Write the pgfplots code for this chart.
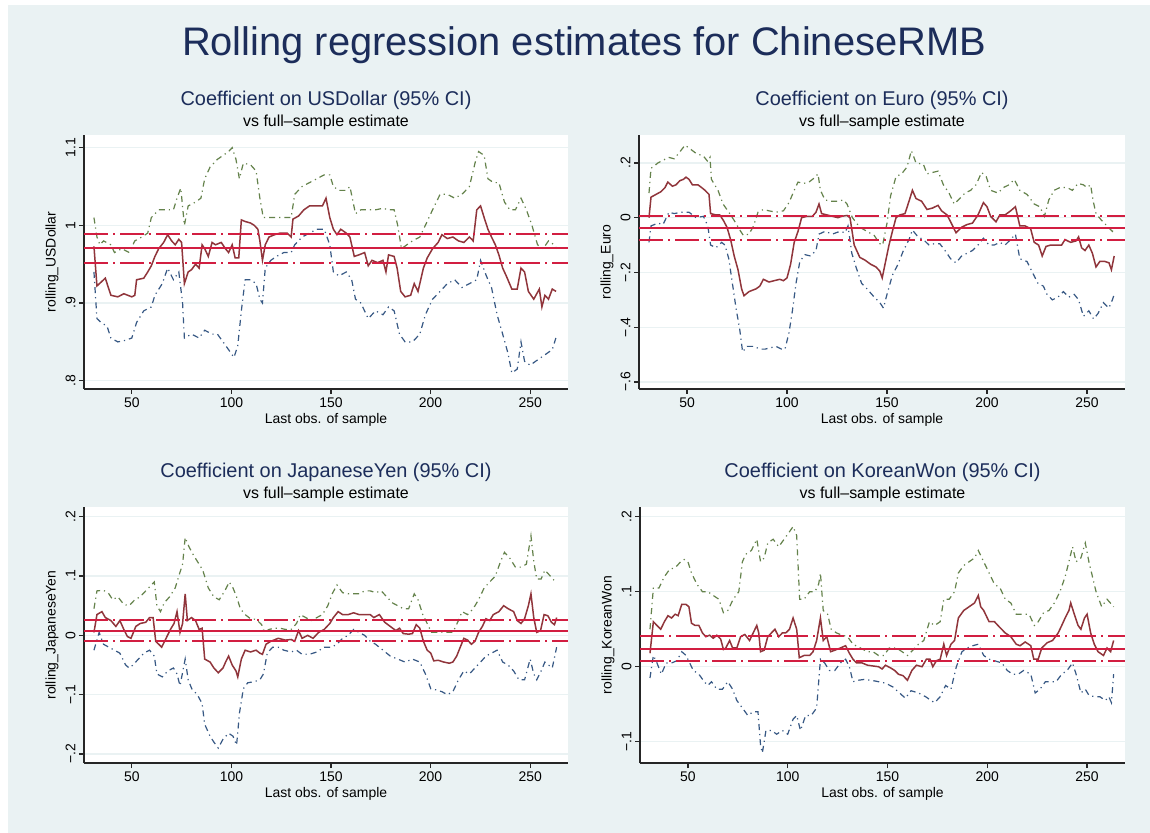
\documentclass[border=0pt]{standalone}
\usepackage{fontspec}
\setmainfont{Liberation Sans}
\usepackage{pgfplots}
\pgfplotsset{compat=1.18}
\definecolor{bgc}{RGB}{234,242,243}
\definecolor{gridc}{RGB}{234,242,243}
\definecolor{ttl}{RGB}{28,45,90}
\definecolor{estc}{RGB}{144,53,59}
\definecolor{hic}{RGB}{100,130,75}
\definecolor{loc}{RGB}{55,88,132}
\definecolor{refc}{RGB}{210,30,65}
\pgfplotsset{
  panel/.style={
    scale only axis, anchor=south west,
    xmin=26, xmax=269,
    xtick={50,100,150,200,250},
    xticklabels={50,100,150,200,250},
    axis x line*=bottom, axis y line*=left,
    axis line style={line width=1.2bp, color=black!85, -},
    x axis line style={-}, y axis line style={-},
    axis background/.style={fill=white},
    tick align=outside,
    major tick length=5bp,
    every tick/.style={line width=1.2bp, black!85},
    ymajorgrids,
    major grid style={line width=1.2bp, color=gridc},
    tick label style={font=\fontsize{14}{16}\selectfont, text=black},
    /pgf/number format/assume math mode=true,
    yticklabel style={rotate=90, anchor=south},
    every axis x label/.style={at={(axis description cs:0.5,0)}, yshift=-31bp, anchor=center, font=\fontsize{14}{16}\selectfont},
    every axis y label/.style={at={(axis description cs:0,0.5)}, xshift=-32bp, rotate=90, anchor=center, font=\fontsize{14}{16}\selectfont},
    xlabel={Last obs. of sample},
  },
  est/.style={color=estc, line width=1.5bp, solid, mark=none},
  hi/.style={color=hic, line width=1.2bp, mark=none, dash pattern=on 6bp off 4bp on 1.2bp off 4bp},
  lo/.style={color=loc, line width=1.2bp, mark=none, dash pattern=on 6bp off 4bp on 1.2bp off 4bp},
  refmid/.style={color=refc, line width=2bp, solid, mark=none},
  refci/.style={color=refc, line width=2bp, mark=none, dash pattern=on 24bp off 5bp on 2bp off 5bp},
}
\begin{document}
\begin{tikzpicture}
\useasboundingbox (0,0) rectangle (1150bp,833bp);
\fill[white] (0,0) rectangle (1150bp,833bp);
\fill[bgc] (8bp,0) rectangle (1150bp,828bp);
\node[anchor=base, text=ttl, font=\fontsize{40}{48}\selectfont] at (584bp,777bp) {Rolling regression estimates for ChineseRMB};

% ---------------- USDollar
\node[anchor=base, text=ttl, font=\fontsize{20}{24}\selectfont] at (326bp,727bp) {Coefficient on USDollar (95\% CI)};
\node[anchor=base, font=\fontsize{16}{19}\selectfont] at (326bp,706bp) {vs full–sample estimate};
\begin{axis}[panel, at={(84bp,444bp)}, width=484bp, height=254bp,
  ymin=0.7894, ymax=1.1163, ytick={0.8,0.9,1,1.1}, yticklabels={.8,.9,1,1.1},
  ylabel={rolling\_USDollar}]
\addplot[hi] coordinates {(31,1.01)(32.5,0.985)(34,0.975)(35.8,0.98)(39.5,0.975)(41.3,0.965)(45,0.97)(48.7,0.965)(51.5,0.98)(55,0.985)(58,0.99)(59.8,1.01)(63.5,1.02)(67,1.02)(70.9,1.02)(72.7,1.035)(74.6,1.048)(76.4,1.0)(78.3,1.025)(82,1.03)(84.7,1.035)(86.6,1.06)(89.3,1.075)(93,1.085)(95.8,1.09)(98.6,1.095)(100.4,1.1)(102.3,1.085)(104,1.06)(106,1.08)(109.6,1.078)(112.4,1.07)(114.3,1.035)(116,1.01)(118.9,1.01)(122.6,1.01)(126.3,1.01)(130,1.01)(131.8,1.04)(135.5,1.05)(139.2,1.055)(142.9,1.06)(146.6,1.065)(149.4,1.065)(151.2,1.05)(154,1.045)(157.7,1.045)(159.5,1.05)(162.3,1.015)(165,1.02)(168.7,1.02)(172.4,1.02)(176.1,1.022)(178.9,1.02)(181.7,1.02)(183.5,1.0)(185.4,0.97)(188.1,0.975)(190.9,0.98)(194.6,0.985)(198.3,1.005)(201,1.02)(204.8,1.04)(208.4,1.04)(212.1,1.035)(215.8,1.04)(219.5,1.05)(222.3,1.08)(224.1,1.095)(226.9,1.09)(228.8,1.06)(231.6,1.055)(234.3,1.055)(237.1,1.03)(239.8,1.02)(242.6,1.02)(245.4,1.035)(248.1,1.02)(250.9,1.0)(253.7,0.975)(256.5,0.97)(259.2,0.98)(262,0.975)(263.3,0.97)};
\addplot[lo] coordinates {(31,0.94)(32.5,0.88)(34.6,0.875)(37.6,0.87)(39.5,0.855)(43,0.85)(46.7,0.852)(50,0.855)(52.4,0.875)(56,0.89)(59.8,0.895)(61.6,0.91)(65.3,0.925)(68,0.945)(70.9,0.93)(73.6,0.94)(75.5,0.9)(76.4,0.855)(80,0.86)(83.8,0.855)(86.6,0.865)(90.3,0.86)(93,0.86)(95.8,0.85)(98.6,0.84)(101.3,0.83)(103.2,0.845)(105,0.89)(106.9,0.93)(109.6,0.93)(112.4,0.925)(114.3,0.905)(115.6,0.9)(117,0.945)(119.8,0.955)(122.6,0.96)(126.3,0.965)(130,0.965)(131.8,0.975)(135.5,0.985)(139.2,0.99)(142.9,0.995)(146.6,0.995)(149.4,0.975)(151.2,0.94)(154,0.935)(157.7,0.94)(160.4,0.93)(162.3,0.905)(165,0.9)(168.7,0.88)(172.4,0.89)(176.1,0.885)(178.9,0.895)(181.7,0.89)(184.4,0.86)(187.2,0.85)(190.9,0.85)(194.6,0.86)(197.4,0.885)(201,0.905)(204.8,0.915)(208.4,0.925)(212.1,0.93)(215.8,0.92)(219.5,0.925)(223.2,0.93)(225.1,0.955)(228,0.935)(230.6,0.92)(233.4,0.885)(236.2,0.86)(238.9,0.835)(240.8,0.81)(243.5,0.815)(245.4,0.85)(247.2,0.825)(250,0.82)(252.7,0.825)(255.5,0.83)(258.3,0.835)(261.1,0.84)(262.9,0.855)};
\addplot[est] coordinates {(31,0.973)(32.5,0.922)(36.7,0.932)(39.5,0.910)(43,0.908)(46,0.912)(50,0.908)(51.5,0.91)(52.4,0.93)(56,0.932)(58,0.94)(59.8,0.948)(61.6,0.96)(63.5,0.97)(66,0.978)(68,0.988)(70,0.98)(71.8,0.975)(73.6,0.982)(75,0.978)(76.4,0.925)(78.3,0.94)(80,0.943)(82,0.95)(83.8,0.945)(85.3,0.975)(86.6,0.97)(88.4,0.96)(90.3,0.978)(92,0.975)(94.9,0.978)(97,0.97)(98.6,0.965)(100.4,0.975)(101.9,0.958)(103.7,0.958)(105,1.007)(106.9,1.005)(109.6,1.003)(111.5,1.0)(113.3,0.995)(114.3,0.98)(115.6,0.955)(117,0.975)(118.9,0.985)(121.7,0.988)(124.4,0.99)(128,0.99)(130,0.985)(130.9,1.008)(133.7,1.012)(136.4,1.02)(139.2,1.025)(142.9,1.025)(145.7,1.025)(147.5,1.035)(149.4,1.01)(151.2,0.995)(153,0.988)(154.9,0.995)(157.7,0.99)(159.5,0.985)(161.7,0.96)(164,0.962)(166.9,0.965)(168.7,0.948)(170.6,0.955)(173.4,0.952)(176.1,0.955)(177.6,0.94)(178.9,0.962)(181.7,0.96)(183.2,0.945)(185,0.915)(187.2,0.908)(190,0.91)(191.8,0.925)(193.7,0.915)(196.4,0.945)(198.3,0.958)(201,0.97)(203.8,0.978)(205.7,0.988)(208.4,0.983)(211.2,0.985)(214,0.98)(216.7,0.978)(219.5,0.985)(221.4,0.98)(223.2,1.02)(225.1,1.025)(226.9,1.01)(228.8,0.995)(230.6,0.985)(232.5,0.975)(234.3,0.962)(236.2,0.945)(238,0.935)(240.8,0.918)(243.5,0.918)(245.4,0.945)(247.2,0.94)(249.1,0.915)(251.8,0.905)(254.6,0.918)(255.9,0.895)(257.4,0.91)(259.2,0.905)(261.1,0.918)(263,0.915)};
\addplot[refmid] coordinates {(26,0.971)(269,0.971)};
\addplot[refci] coordinates {(26,0.989)(269,0.989)};
\addplot[refci] coordinates {(26,0.951)(269,0.951)};
\end{axis}

% ---------------- Euro
\node[anchor=base, text=ttl, font=\fontsize{20}{24}\selectfont] at (882bp,727bp) {Coefficient on Euro (95\% CI)};
\node[anchor=base, font=\fontsize{16}{19}\selectfont] at (882bp,706bp) {vs full–sample estimate};
\begin{axis}[panel, at={(639bp,444bp)}, width=486bp, height=254bp,
  ymin=-0.6256, ymax=0.302, ytick={-0.6,-0.4,-0.2,0,0.2}, yticklabels={−.6,−.4,−.2,0,.2},
  ylabel={rolling\_Euro}]
\addplot[hi] coordinates {(31,0.09)(32,0.18)(35.5,0.2)(38,0.21)(41,0.22)(43.6,0.215)(46.4,0.24)(49,0.265)(51.8,0.25)(54.5,0.235)(58.2,0.225)(60.4,0.205)(61.5,0.22)(62.2,0.14)(65.5,0.1)(68,0.05)(70.9,0.02)(73.6,-0.01)(76.4,-0.045)(78.2,-0.065)(81,-0.06)(83.3,-0.03)(85.5,0.02)(88.2,0.03)(91,0.025)(94.5,0.02)(98.2,0.025)(101,0.055)(103.6,0.1)(105.5,0.13)(108.2,0.125)(111,0.13)(113.6,0.145)(115.5,0.16)(116.7,0.1)(119,0.065)(121.8,0.06)(125.5,0.06)(128.2,0.065)(130,0.05)(132.7,0.0)(136.4,-0.035)(140,-0.05)(143.6,-0.065)(146.4,-0.095)(147.8,-0.1)(150,-0.02)(151.8,0.08)(154.5,0.15)(157.3,0.16)(160,0.185)(162.2,0.245)(164.5,0.2)(168.2,0.195)(170,0.16)(172.7,0.165)(175.5,0.17)(178.2,0.12)(181,0.09)(183.6,0.05)(186.4,0.07)(189,0.09)(191.8,0.1)(194.5,0.12)(197.3,0.165)(199.6,0.15)(201.8,0.1)(205.5,0.09)(208.2,0.11)(211,0.12)(213.6,0.14)(216.4,0.1)(220,0.085)(223.6,0.05)(226.4,0.04)(228.7,0.005)(230.9,0.065)(233.6,0.1)(236.4,0.11)(240,0.11)(242.7,0.1)(245.5,0.125)(248.2,0.12)(250,0.11)(251.8,0.12)(253.1,0.06)(254.5,0.015)(257.3,-0.01)(260,-0.03)(262.7,-0.05)(263.6,-0.04)};
\addplot[lo] coordinates {(31,-0.09)(32,-0.03)(35.5,-0.02)(38,-0.025)(41,0.02)(43.6,0.015)(47.3,0.02)(51,0.02)(54.5,0.0)(58.2,0.005)(60.4,-0.03)(61.8,-0.1)(64.5,-0.11)(67.3,-0.09)(69,-0.1)(70.9,-0.15)(72.7,-0.24)(74.5,-0.33)(76.4,-0.41)(77.8,-0.49)(80,-0.47)(83.6,-0.47)(86.4,-0.48)(89,-0.48)(91.8,-0.475)(94.5,-0.47)(97.3,-0.48)(99,-0.48)(101,-0.42)(102.7,-0.34)(104.5,-0.24)(106.4,-0.16)(109,-0.135)(111.8,-0.14)(114.5,-0.12)(116,-0.06)(119,-0.05)(122.7,-0.06)(126.4,-0.05)(129,-0.055)(130.5,-0.03)(132.4,-0.13)(134.5,-0.18)(137.3,-0.24)(140,-0.26)(143.6,-0.29)(146.4,-0.31)(148.2,-0.33)(150,-0.28)(152.7,-0.21)(155.5,-0.17)(158.2,-0.12)(161,-0.08)(162.7,-0.045)(165.5,-0.07)(168.2,-0.08)(171,-0.1)(173.6,-0.095)(176.4,-0.095)(179,-0.12)(181.8,-0.15)(184.5,-0.165)(187.3,-0.14)(190,-0.13)(192.7,-0.12)(195.5,-0.1)(198.2,-0.075)(201,-0.1)(203.6,-0.1)(206.4,-0.09)(209,-0.1)(211.8,-0.08)(214.2,-0.06)(216.4,-0.15)(220,-0.16)(222.7,-0.2)(225.5,-0.24)(228.2,-0.25)(230,-0.28)(232.7,-0.3)(235.5,-0.29)(238.2,-0.27)(240.9,-0.29)(243.6,-0.28)(245.8,-0.3)(248.2,-0.36)(250.9,-0.34)(253.3,-0.37)(255.5,-0.35)(258.2,-0.31)(260.9,-0.33)(262.7,-0.3)(263.6,-0.28)};
\addplot[est] coordinates {(31,0.0)(32,0.075)(34.5,0.085)(37,0.095)(39,0.11)(40.4,0.13)(42.7,0.115)(44.5,0.12)(46.4,0.135)(48.2,0.14)(49.5,0.148)(51,0.14)(52.7,0.12)(55.5,0.12)(57.3,0.11)(59,0.1)(61,0.085)(61.8,0.015)(64.5,0.01)(66.4,0.01)(68.2,-0.01)(70,-0.035)(71.8,-0.08)(73.6,-0.14)(75.5,-0.19)(77.3,-0.26)(78.5,-0.285)(81,-0.27)(82.7,-0.265)(84.5,-0.26)(86.4,-0.25)(88.2,-0.225)(91,-0.235)(93.6,-0.23)(96.4,-0.225)(98.2,-0.23)(100,-0.22)(101.8,-0.17)(103.6,-0.09)(105.5,-0.05)(107.3,0.0)(110,0.005)(112.7,0.005)(114.5,0.02)(116,0.05)(117.3,0.015)(120,0.01)(122.7,0.005)(125.5,0.0)(127.3,0.005)(130,0.008)(131.5,0.0)(133.6,-0.1)(136.4,-0.145)(139,-0.155)(141.8,-0.17)(144.5,-0.18)(146.4,-0.195)(147.6,-0.22)(149,-0.17)(151,-0.1)(152.7,-0.05)(154.5,0.0)(156.4,0.01)(159,0.015)(161,0.06)(162.7,0.1)(164.5,0.07)(167.3,0.06)(170,0.03)(172.7,0.035)(175.5,0.045)(177.3,0.025)(180,0.01)(181.8,-0.015)(184.5,-0.055)(187.3,-0.035)(190,-0.025)(192.7,-0.02)(195.5,0.01)(198.2,0.055)(200,0.04)(201.8,0.005)(204.5,-0.015)(206.4,0.01)(209,0.01)(211.8,0.025)(214.2,0.04)(216.4,-0.03)(219,-0.03)(221.8,-0.04)(223.6,-0.09)(225.8,-0.1)(227.6,-0.14)(229.5,-0.105)(231.8,-0.1)(234.5,-0.1)(237.3,-0.1)(239,-0.08)(241.8,-0.09)(244.5,-0.085)(245.8,-0.07)(247.3,-0.11)(249,-0.12)(250.9,-0.1)(252.7,-0.13)(254.5,-0.18)(256.4,-0.16)(259,-0.16)(261,-0.165)(262.2,-0.19)(263.6,-0.14)};
\addplot[refmid] coordinates {(26,-0.038)(269,-0.038)};
\addplot[refci] coordinates {(26,0.005)(269,0.005)};
\addplot[refci] coordinates {(26,-0.083)(269,-0.083)};
\end{axis}

% ---------------- JapaneseYen
\node[anchor=base, text=ttl, font=\fontsize{20}{24}\selectfont] at (326bp,355bp) {Coefficient on JapaneseYen (95\% CI)};
\node[anchor=base, font=\fontsize{16}{19}\selectfont] at (326bp,334bp) {vs full–sample estimate};
\begin{axis}[panel, at={(84bp,70bp)}, width=484bp, height=256bp,
  ymin=-0.2152, ymax=0.2164, ytick={-0.2,-0.1,0,0.1,0.2}, yticklabels={−.2,−.1,0,.1,.2},
  ylabel={rolling\_JapaneseYen}]
\addplot[hi] coordinates {(31,0.045)(32.5,0.075)(35.8,0.076)(38.5,0.07)(40.4,0.06)(43,0.065)(46,0.052)(48.7,0.05)(51.5,0.06)(54.2,0.065)(57,0.075)(59.8,0.085)(61.3,0.09)(62.6,0.05)(64.4,0.04)(66.3,0.055)(69,0.065)(71.8,0.08)(73.6,0.1)(75.5,0.12)(76.8,0.165)(78.6,0.15)(81,0.135)(83.8,0.12)(85.6,0.11)(88.4,0.08)(91.2,0.065)(93.9,0.06)(96.7,0.075)(98.9,0.09)(100.8,0.08)(102.6,0.065)(104.5,0.045)(106.9,0.035)(109.6,0.028)(112.4,0.027)(115.2,0.018)(116.7,0.005)(118.9,0.01)(121.7,0.012)(124.4,0.012)(127.2,0.01)(130,0.01)(132.7,0.02)(134.6,0.035)(137.3,0.03)(140.1,0.025)(142.9,0.03)(145.7,0.035)(148.4,0.05)(150.6,0.07)(153,0.085)(155.8,0.072)(158.6,0.07)(161.4,0.07)(164.1,0.07)(166.9,0.075)(169.7,0.075)(172.4,0.072)(175.2,0.075)(178,0.065)(180.7,0.055)(183.5,0.05)(186.3,0.045)(189,0.045)(191.8,0.07)(193.7,0.06)(196.1,0.035)(198.3,0.02)(200.5,0.005)(202.9,0.005)(205.7,0.005)(208.4,0.005)(211.2,0.005)(214,0.025)(215.8,0.04)(218.6,0.035)(221.4,0.045)(224.1,0.06)(226.9,0.08)(229.7,0.09)(232.5,0.1)(235.2,0.125)(237.1,0.14)(239.8,0.13)(242.6,0.115)(245.4,0.115)(248.1,0.12)(250.4,0.168)(251.8,0.125)(253.3,0.095)(255.5,0.095)(257.4,0.11)(260.1,0.1)(263.3,0.088)};
\addplot[lo] coordinates {(31,-0.025)(33.6,0.005)(35.8,-0.015)(38.5,-0.02)(41.3,-0.025)(44,-0.03)(46.9,-0.05)(48.7,-0.055)(50.6,-0.05)(53.3,-0.04)(56.1,-0.03)(58.9,-0.025)(61.3,-0.035)(62.6,-0.065)(65.3,-0.07)(68.1,-0.06)(70.9,-0.055)(72.7,-0.065)(74.2,-0.085)(76.8,-0.04)(78.3,-0.075)(80.1,-0.09)(82.9,-0.1)(85.3,-0.115)(86.6,-0.15)(89.3,-0.17)(91.2,-0.18)(93.4,-0.19)(95.8,-0.175)(98.6,-0.165)(100.8,-0.17)(102.6,-0.185)(104.1,-0.13)(106,-0.09)(108.2,-0.08)(111.5,-0.078)(114.3,-0.075)(116.1,-0.065)(118,-0.03)(120.7,-0.02)(123.5,-0.02)(126.3,-0.025)(130,-0.028)(132.7,-0.025)(135.5,-0.032)(139.2,-0.032)(142.9,-0.028)(146.6,-0.02)(150.3,-0.02)(153,-0.015)(155.8,-0.005)(158.6,0.0)(161.4,0.01)(164.1,0.005)(166.9,0.0)(169.7,-0.01)(172.4,-0.015)(176.1,-0.025)(179.8,-0.035)(183.5,-0.04)(187.2,-0.045)(190.9,-0.04)(194.6,-0.045)(197.4,-0.065)(200.1,-0.09)(202.9,-0.092)(205.7,-0.095)(208.4,-0.1)(211.2,-0.095)(214,-0.075)(216.7,-0.06)(219.5,-0.065)(222.3,-0.055)(225.1,-0.045)(227.8,-0.035)(230.6,-0.03)(233.4,-0.025)(236.2,-0.045)(238.9,-0.05)(241.7,-0.06)(244.4,-0.075)(247.2,-0.075)(250,-0.04)(251.8,-0.065)(253.3,-0.075)(255.5,-0.06)(257.4,-0.045)(259.2,-0.05)(261.1,-0.055)(263.3,-0.02)};
\addplot[est] coordinates {(31,0.005)(32.5,0.035)(35,0.04)(36.7,0.03)(39.5,0.025)(42,0.015)(44,0.025)(46,0.01)(47.8,-0.002)(49.6,-0.005)(52,0.015)(54.2,0.02)(57,0.022)(58.9,0.03)(60.7,0.03)(62,-0.01)(63.5,-0.015)(65,-0.02)(67.2,-0.005)(69.4,0.01)(71.2,0.02)(72.7,0.04)(74.2,0.005)(75.5,0.02)(76.8,0.07)(77.9,0.025)(80,0.03)(82,0.025)(83.8,0.01)(85.3,0.012)(86.6,-0.04)(89.3,-0.045)(91.2,-0.055)(93.4,-0.063)(95.8,-0.055)(97.1,-0.045)(98.6,-0.035)(100.4,-0.05)(102.3,-0.06)(103.2,-0.07)(105,-0.04)(106.9,-0.025)(109.6,-0.028)(112.4,-0.025)(114.3,-0.03)(115.6,-0.032)(117.4,-0.015)(119.8,-0.01)(123.5,-0.005)(127.2,-0.008)(130,-0.007)(131.8,-0.01)(133.7,0.008)(135.5,-0.005)(138.3,0.0)(141,-0.005)(143.8,0.005)(146.6,0.01)(149.4,0.02)(151.2,0.03)(153.6,0.04)(155.8,0.035)(158.6,0.035)(161.4,0.038)(164.1,0.035)(166.9,0.035)(169.7,0.035)(171.5,0.03)(174.3,0.035)(177,0.022)(179.8,0.015)(182.6,0.008)(184.4,0.012)(186.3,0.003)(189,0.002)(190.9,0.003)(192.8,0.018)(194.6,0.012)(196.4,-0.01)(198.3,-0.025)(200.1,-0.03)(201.6,-0.043)(203.8,-0.042)(206.6,-0.045)(209.4,-0.047)(211.2,-0.045)(213.1,-0.035)(214.9,-0.02)(216.7,-0.005)(218.6,-0.008)(220.5,-0.015)(222.3,-0.01)(224.1,0.005)(226,0.015)(227.8,0.028)(229.7,0.025)(231.5,0.035)(234.3,0.04)(236.7,0.05)(238.9,0.045)(241.7,0.04)(243.5,0.025)(245.4,0.02)(247.2,0.028)(249.1,0.05)(250.4,0.07)(251.8,0.03)(253.3,0.005)(255.2,0.008)(257,0.035)(258.9,0.033)(260.7,0.022)(262.2,0.018)(263.3,0.03)};
\addplot[refmid] coordinates {(26,0.008)(269,0.008)};
\addplot[refci] coordinates {(26,0.026)(269,0.026)};
\addplot[refci] coordinates {(26,-0.010)(269,-0.010)};
\end{axis}

% ---------------- KoreanWon
\node[anchor=base, text=ttl, font=\fontsize{20}{24}\selectfont] at (882.5bp,355bp) {Coefficient on KoreanWon (95\% CI)};
\node[anchor=base, font=\fontsize{16}{19}\selectfont] at (882.5bp,334bp) {vs full–sample estimate};
\begin{axis}[panel, at={(640bp,70bp)}, width=485bp, height=256bp,
  ymin=-0.1284, ymax=0.213, ytick={-0.1,0,0.1,0.2}, yticklabels={−.1,0,.1,.2},
  ylabel={rolling\_KoreanWon}]
\addplot[hi] coordinates {(31,0.05)(32.7,0.105)(35.5,0.105)(38.2,0.12)(40.9,0.13)(43.6,0.132)(46.4,0.14)(48.2,0.143)(50,0.14)(51.8,0.125)(54.5,0.11)(57.3,0.1)(60,0.1)(62.7,0.095)(65.5,0.09)(67.8,0.072)(70,0.075)(72.7,0.09)(75.5,0.1)(77.3,0.14)(79,0.15)(81.8,0.155)(84.5,0.17)(86.4,0.14)(88.2,0.145)(90,0.165)(92.7,0.17)(95.5,0.16)(98.2,0.17)(100.9,0.18)(102.7,0.187)(104.5,0.175)(106,0.09)(108.2,0.09)(111,0.1)(113.6,0.1)(115.5,0.11)(116.4,0.125)(117.8,0.075)(120,0.07)(121.8,0.05)(124.5,0.045)(127.3,0.042)(130,0.04)(132.7,0.03)(136.4,0.025)(140,0.02)(142.7,0.02)(145.5,0.015)(148.2,0.015)(150.9,0.025)(154.5,0.025)(157.3,0.02)(160,0.015)(162.7,0.022)(165.5,0.03)(168.2,0.035)(171,0.06)(173.6,0.055)(176.4,0.06)(178.2,0.09)(180.9,0.09)(183.6,0.1)(185.5,0.125)(188.2,0.135)(190.9,0.14)(193.6,0.145)(195.5,0.155)(198.2,0.14)(200.9,0.125)(203.6,0.11)(206.4,0.105)(209,0.09)(211.8,0.085)(214.5,0.07)(218.2,0.07)(220.9,0.07)(223.6,0.055)(225.5,0.06)(228.2,0.072)(230.9,0.075)(233.6,0.085)(236.4,0.1)(239,0.12)(240.9,0.14)(242.7,0.16)(244.5,0.14)(246.9,0.145)(249.1,0.165)(250.9,0.14)(252.7,0.12)(254.5,0.1)(257.3,0.08)(260,0.09)(263.3,0.08)};
\addplot[lo] coordinates {(31,-0.015)(32.7,0.015)(34.5,0.005)(36.7,-0.01)(39.1,0.005)(41.8,0.005)(44.5,0.008)(46.9,0.02)(49.1,0.015)(50.9,0.005)(52.7,-0.005)(55.5,-0.01)(58.2,-0.02)(60,-0.025)(61.8,-0.02)(64.5,-0.03)(67.3,-0.03)(70,-0.02)(72.4,-0.03)(74.5,-0.045)(77.3,-0.055)(80,-0.065)(82.7,-0.06)(85.1,-0.06)(86.4,-0.105)(87.3,-0.115)(89.1,-0.085)(91.8,-0.085)(94.5,-0.09)(97.3,-0.085)(100,-0.09)(102.7,-0.07)(104.5,-0.065)(106.4,-0.085)(109,-0.065)(111.8,-0.065)(114.5,-0.055)(116.4,0.01)(118.5,0.005)(120.9,-0.005)(123.6,-0.005)(126.4,0.005)(129,0.01)(130.9,0.0)(132.7,-0.02)(135.5,-0.018)(138.2,-0.017)(141.8,-0.018)(145.5,-0.02)(149.1,-0.022)(152.7,-0.027)(156,-0.035)(159,-0.042)(161.8,-0.032)(165.5,-0.035)(169.1,-0.04)(171.8,-0.045)(173.6,-0.048)(176.4,-0.04)(179.1,-0.025)(181.8,-0.03)(184.5,0.0)(187.3,0.02)(190,0.025)(192.7,0.028)(195.5,0.03)(198.2,0.015)(200.9,0.01)(203.6,0.008)(207.3,0.005)(210,-0.005)(212.7,-0.01)(215.5,-0.01)(218.2,-0.005)(221.8,-0.01)(224,-0.035)(226.4,-0.03)(229.1,-0.02)(231.8,-0.02)(234.5,-0.02)(237.3,-0.01)(240,-0.005)(242.7,0.005)(244.5,-0.01)(246.9,-0.035)(249.1,-0.03)(250.9,-0.038)(253.6,-0.04)(256.4,-0.04)(259.1,-0.045)(260.9,-0.04)(262.2,-0.048)(263.3,-0.01)};
\addplot[est] coordinates {(31,0.018)(32.7,0.06)(34.5,0.055)(36.4,0.05)(38.2,0.06)(40,0.068)(41.8,0.065)(43.6,0.07)(45.1,0.068)(46.9,0.083)(49.1,0.083)(50.5,0.08)(51.8,0.058)(53.6,0.055)(55.5,0.055)(57.3,0.045)(59,0.04)(60.9,0.042)(62.7,0.038)(64.5,0.042)(66.4,0.037)(67.8,0.023)(69,0.025)(70.9,0.035)(72.4,0.025)(74.5,0.025)(76.4,0.04)(78.5,0.043)(80.9,0.035)(82.7,0.045)(84.5,0.055)(85.5,0.045)(86.4,0.02)(88.2,0.022)(90,0.04)(91.8,0.045)(93.6,0.05)(95.5,0.04)(97.3,0.045)(99,0.045)(100.9,0.05)(102.7,0.065)(104.5,0.05)(105.8,0.012)(108.2,0.015)(111,0.015)(112.7,0.02)(114.5,0.035)(116.4,0.065)(117.8,0.035)(119.6,0.04)(121.5,0.02)(123.6,0.022)(126.4,0.025)(129,0.028)(130.9,0.018)(132.7,0.01)(134.5,0.005)(137.3,0.005)(140,0.002)(142.7,0.001)(145.5,0.0)(147.3,-0.003)(149,0.002)(151.8,-0.002)(153.6,-0.005)(155.5,-0.01)(157.8,-0.012)(160,-0.018)(162.2,-0.005)(164.5,0.002)(167.3,0.0)(169.5,0.01)(171.3,0.01)(172.7,0.0)(174.5,0.008)(176.4,0.01)(178.2,0.03)(179.6,0.015)(181.8,0.03)(183.6,0.035)(185.5,0.065)(188.2,0.075)(190.9,0.08)(193.6,0.085)(195.5,0.095)(196.7,0.08)(198.2,0.075)(200.9,0.06)(203.6,0.06)(206.4,0.052)(209,0.045)(211.8,0.04)(214.5,0.03)(216.4,0.028)(219,0.033)(221.8,0.028)(223.3,0.01)(225.5,0.01)(227.3,0.025)(230,0.032)(232.7,0.035)(235.5,0.045)(237.3,0.055)(239,0.065)(240.9,0.075)(241.8,0.085)(243.6,0.07)(245.5,0.055)(246.9,0.05)(248.7,0.065)(250,0.07)(251.8,0.045)(253.6,0.03)(255.5,0.02)(258.2,0.015)(260,0.025)(261.8,0.02)(263.3,0.035)};
\addplot[refmid] coordinates {(26,0.024)(269,0.024)};
\addplot[refci] coordinates {(26,0.041)(269,0.041)};
\addplot[refci] coordinates {(26,0.008)(269,0.008)};
\end{axis}
\end{tikzpicture}
\end{document}
